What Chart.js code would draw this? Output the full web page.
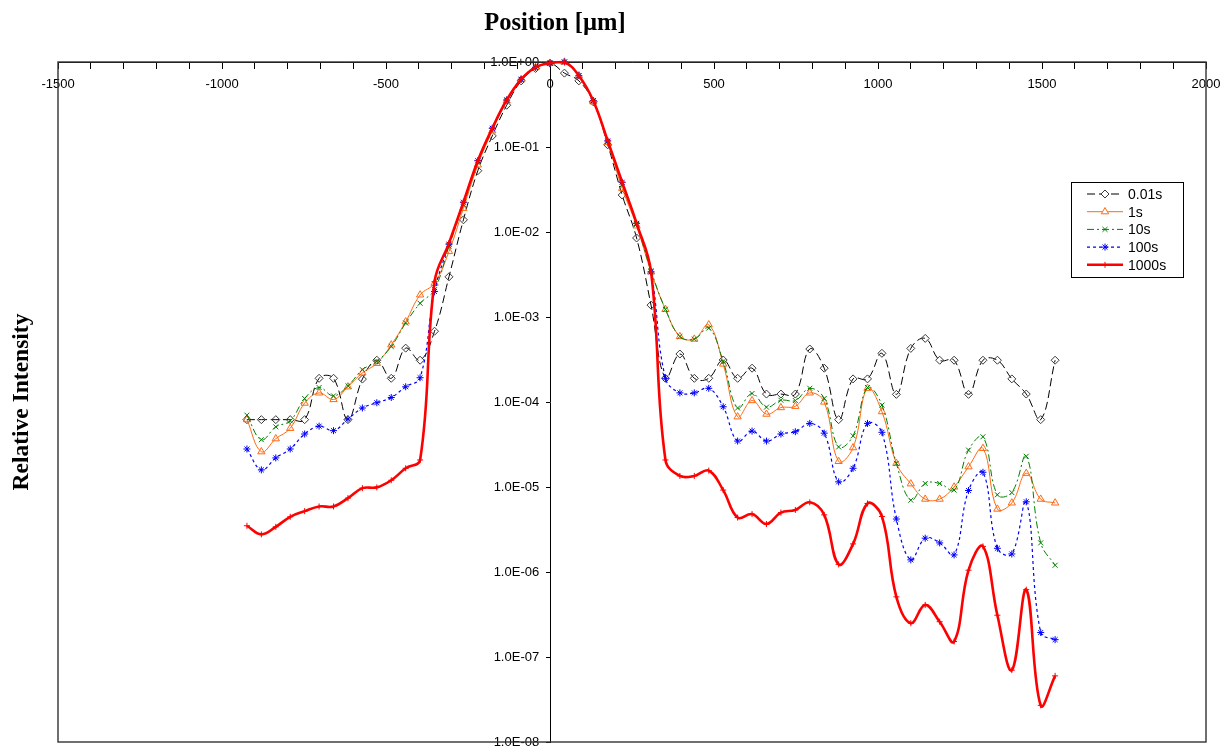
<!DOCTYPE html>
<html>
<head>
<meta charset="utf-8">
<script src="https://cdn.jsdelivr.net/npm/chart.js@4.4.1/dist/chart.umd.min.js"></script>
<style>
html,body{margin:0;padding:0;background:#fff;}
#wrap{position:relative;width:1224px;height:749px;}
</style>
</head>
<body>
<div id="wrap"><canvas id="c"></canvas></div>
<script>
// ---------- DATA ----------
const positions = [-924,-880,-836,-792,-748,-704,-660,-616,-572,-528,-484,-440,-396,-352,-308,-264,-220,-176,-132,-88,-44,
  0,44,88,132,176,220,264,308,352,396,440,484,528,572,616,660,704,748,792,836,880,924,968,1012,1056,1100,1144,1188,1232,1276,1320,1364,1408,1452,1496,1540];

const seriesNames = ['0.01s','1s','10s','100s','1000s'];

const s0_01 = [6.2e-5,6.2e-5,6.2e-5,6.2e-5,6.2e-5,1.9e-4,1.9e-4,6.2e-5,1.86e-4,3.1e-4,1.9e-4,4.3e-4,3.1e-4,6.8e-4,2.97e-3,0.0139,0.0526,0.135,0.31,0.6,0.84,
  0.97,0.74,0.6,0.34,0.106,0.0272,0.0085,0.00138,1.9e-4,3.67e-4,1.9e-4,1.9e-4,3.12e-4,1.9e-4,2.5e-4,1.24e-4,1.24e-4,1.24e-4,4.2e-4,2.5e-4,6.2e-5,1.87e-4,1.87e-4,3.74e-4,1.23e-4,4.27e-4,5.6e-4,3.1e-4,3.1e-4,1.23e-4,3.1e-4,3.1e-4,1.87e-4,1.24e-4,6.2e-5,3.1e-4];

const s1 = [6.2e-5,2.6e-5,3.7e-5,4.9e-5,9.7e-5,1.28e-4,1.07e-4,1.51e-4,2.2e-4,2.85e-4,4.7e-4,8.8e-4,1.82e-3,2.5e-3,5.9e-3,0.019,0.0616,0.155,0.35,0.62,0.86,
  0.97,1.0,0.69,0.34,0.113,0.0327,0.0118,0.0034,1.23e-3,5.9e-4,5.5e-4,8.1e-4,2.8e-4,6.7e-5,1.04e-4,7.2e-5,8.6e-5,8.9e-5,1.28e-4,1.0e-4,2.0e-5,2.9e-5,1.45e-4,7.7e-5,1.9e-5,1.09e-5,7.2e-6,7.2e-6,1.0e-5,1.73e-5,2.85e-5,5.5e-6,6.5e-6,1.45e-5,7.2e-6,6.5e-6];

const s10 = [7.0e-5,3.6e-5,5.1e-5,6.0e-5,1.1e-4,1.48e-4,1.18e-4,1.55e-4,2.4e-4,3.0e-4,4.5e-4,8.5e-4,1.45e-3,2.1e-3,6.8e-3,0.021,0.066,0.16,0.355,0.62,0.86,
  0.97,1.0,0.69,0.35,0.116,0.036,0.0123,0.0035,1.23e-3,5.9e-4,5.5e-4,7.4e-4,3.0e-4,8.5e-5,1.26e-4,8.7e-5,1.05e-4,1.04e-4,1.45e-4,1.1e-4,2.96e-5,4.0e-5,1.48e-4,9.2e-5,1.9e-5,7.0e-6,1.1e-5,1.1e-5,9.2e-6,2.72e-5,3.9e-5,8.1e-6,8.6e-6,2.3e-5,2.2e-6,1.2e-6];

const s100 = [2.8e-5,1.59e-5,2.2e-5,2.8e-5,4.2e-5,5.2e-5,4.6e-5,6.3e-5,8.5e-5,9.8e-5,1.13e-4,1.51e-4,1.93e-4,2.0e-3,7.2e-3,0.0224,0.069,0.166,0.357,0.625,0.866,
  0.97,1.0,0.69,0.35,0.118,0.0385,0.01265,0.0034,1.9e-4,1.28e-4,1.28e-4,1.45e-4,8.8e-5,3.47e-5,4.55e-5,3.47e-5,4.2e-5,4.47e-5,5.6e-5,4.3e-5,1.15e-5,1.66e-5,5.6e-5,4.4e-5,4.2e-6,1.39e-6,2.5e-6,2.2e-6,1.59e-6,9.1e-6,1.49e-5,1.9e-6,1.63e-6,6.7e-6,1.94e-7,1.6e-7];

const s1000 = [3.5e-6,2.77e-6,3.4e-6,4.46e-6,5.2e-6,5.9e-6,5.9e-6,7.4e-6,9.7e-6,9.9e-6,1.2e-5,1.66e-5,2.08e-5,2.6e-3,7.4e-3,0.0224,0.069,0.166,0.357,0.625,0.866,
  0.97,1.0,0.69,0.35,0.118,0.0385,0.01265,0.00341,2.08e-5,1.35e-5,1.35e-5,1.56e-5,9.2e-6,4.37e-6,4.8e-6,3.67e-6,5.0e-6,5.37e-6,6.6e-6,4.7e-6,1.23e-6,2.14e-6,6.4e-6,4.5e-6,5.1e-7,2.5e-7,4.1e-7,2.6e-7,1.52e-7,1.05e-6,2.0e-6,3.1e-7,7.0e-8,6.2e-7,2.7e-8,6.0e-8];

const xTickLabels = ['-1500','-1000','-500','0','500','1000','1500','2000'];
const yTickValues = [1e0,1e-1,1e-2,1e-3,1e-4,1e-5,1e-6,1e-7,1e-8];
const yTickLabels = ['1.0E+00','1.0E-01','1.0E-02','1.0E-03','1.0E-04','1.0E-05','1.0E-06','1.0E-07','1.0E-08'];
const xTitle = 'Position [µm]';
const yTitle = 'Relative Intensity';

// ---------- STYLE ----------
function xy(vals){ return vals.map((v,i)=>({x:positions[i], y:v})); }

const dsStyles = [
  {color:'#000000', pointColor:'#3a3a3a', width:1, dash:[8,4], point:'rectRot', radius:4, order:5},
  {color:'#ff6a13', pointColor:'#ff6a13', width:1, dash:[], point:'triangle', radius:4.2, order:4},
  {color:'#008000', pointColor:'#008000', width:1, dash:[7,3,2,3], point:'crossRot', radius:3.5, order:3},
  {color:'#0000ff', pointColor:'#0000ff', width:1.2, dash:[3,3], point:'star', radius:3.5, order:2},
  {color:'#ff0000', pointColor:'#ff0000', width:2.6, dash:[], point:'cross', radius:3, order:1}
];
const allSeries = [s0_01, s1, s10, s100, s1000];

const datasets = allSeries.map((s,k)=>{
  const st = dsStyles[k];
  return {
    label: seriesNames[k],
    data: xy(s),
    borderColor: st.color,
    borderWidth: st.width,
    borderDash: st.dash,
    backgroundColor: 'rgba(0,0,0,0)',
    pointStyle: st.point,
    pointRadius: st.radius,
    pointBorderColor: st.pointColor,
    pointBackgroundColor: 'rgba(255,255,255,0)',
    pointBorderWidth: 1,
    tension: 0.4,
    fill: false,
    order: st.order,
    clip: false
  };
});

Chart.defaults.font.family = '"Liberation Sans", Arial, sans-serif';
Chart.defaults.font.size = 13;
Chart.defaults.color = '#000';

function noPad(scale){ scale.paddingLeft = 0; scale.paddingRight = 0; scale.paddingTop = 0; scale.paddingBottom = 0; }

const decor = {
  id: 'decor',
  beforeDraw(chart){
    const ctx = chart.ctx;
    ctx.save(); ctx.fillStyle = '#fff'; ctx.fillRect(0,0,chart.width,chart.height); ctx.restore();
  },
  beforeDatasetsDraw(chart){
    const {ctx, chartArea:a} = chart;
    ctx.save();
    ctx.strokeStyle = '#333'; ctx.lineWidth = 1.4;
    ctx.strokeRect(a.left, a.top, a.right - a.left, a.bottom - a.top);
    ctx.restore();
  },
  afterDraw(chart){
    const {ctx, chartArea:a} = chart;
    ctx.save();
    ctx.fillStyle = '#000';
    ctx.font = 'bold 24.5px "Liberation Serif", "Times New Roman", serif';
    ctx.textAlign = 'center'; ctx.textBaseline = 'middle';
    ctx.fillText(xTitle, 555, 24);
    ctx.save();
    ctx.translate(22, (a.top + a.bottom) / 2);
    ctx.rotate(-Math.PI / 2);
    ctx.font = 'bold 23.5px "Liberation Serif", "Times New Roman", serif';
    ctx.fillText(yTitle, 0, 0);
    ctx.restore();

    // legend
    const lx = 1071, ly = 182, lw = 112, lh = 95;
    ctx.fillStyle = '#fff'; ctx.fillRect(lx, ly, lw, lh);
    ctx.strokeStyle = '#000'; ctx.lineWidth = 1;
    ctx.strokeRect(lx + 0.5, ly + 0.5, lw, lh);
    ctx.font = '14px "Liberation Sans", Arial, sans-serif';
    ctx.textAlign = 'left'; ctx.textBaseline = 'middle';
    chart.data.datasets.forEach((ds, k) => {
      const y = ly + 12 + k * 17.7;
      ctx.save();
      ctx.strokeStyle = ds.borderColor; ctx.lineWidth = ds.borderWidth;
      ctx.setLineDash(ds.borderDash);
      ctx.beginPath(); ctx.moveTo(1087, y); ctx.lineTo(1123, y); ctx.stroke();
      ctx.setLineDash([]);
      ctx.strokeStyle = ds.pointBorderColor; ctx.fillStyle = '#fff'; ctx.lineWidth = 1;
      Chart.helpers.drawPoint(ctx, {pointStyle: ds.pointStyle, rotation: 0, radius: ds.pointRadius, borderWidth: 1}, 1105, y);
      ctx.restore();
      ctx.fillStyle = '#000';
      ctx.fillText(ds.label, 1128, y + 1);
    });
    ctx.restore();
  }
};

new Chart(document.getElementById('c'), {
  type: 'line',
  data: { datasets },
  options: {
    responsive: true,
    maintainAspectRatio: false,
    animation: false,
    events: [],
    layout: { padding: { left: 58, top: 62, right: 18, bottom: 7 } },
    plugins: { legend: { display: false }, title: { display: false }, tooltip: { enabled: false } },
    scales: {
      x: {
        type: 'linear',
        position: { y: 1 },
        min: -1500, max: 2000,
        afterFit: noPad,
        grid: { drawOnChartArea: false, drawTicks: true, tickLength: 6, color: '#000' },
        border: { display: true, color: '#000', width: 1 },
        ticks: {
          stepSize: 100, autoSkip: false, maxRotation: 0, padding: 9,
          font: { size: 13 },
          callback: (v) => xTickLabels.includes(String(v)) ? String(v) : ''
        }
      },
      y: {
        type: 'logarithmic',
        position: { x: 0 },
        min: 1e-8, max: 1,
        afterFit: noPad,
        afterBuildTicks: (scale) => { scale.ticks = yTickValues.map(v => ({ value: v })); },
        grid: { drawOnChartArea: false, drawTicks: true, tickLength: 4, color: '#000' },
        border: { display: true, color: '#000', width: 1 },
        ticks: {
          autoSkip: false, font: { size: 13 },
          callback: (v, i) => yTickLabels[yTickValues.indexOf(v)] + '   '
        }
      }
    }
  },
  plugins: [decor]
});
</script>
</body>
</html>
